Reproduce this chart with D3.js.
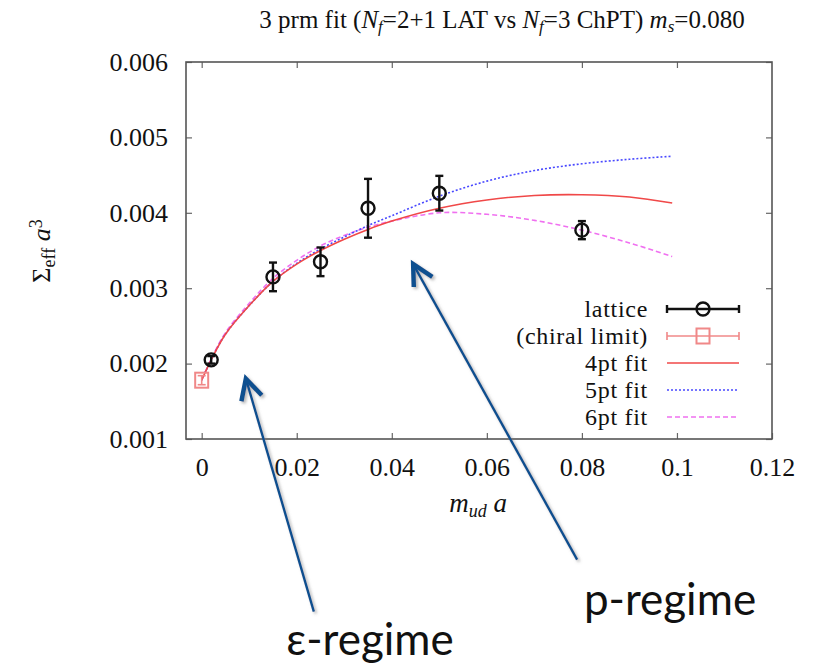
<!DOCTYPE html>
<html>
<head>
<meta charset="utf-8">
<script src="https://cdn.jsdelivr.net/npm/d3@7"></script>
<style>
  body { margin: 0; background: #fff; }
  svg text { font-family: "Liberation Serif", "Tinos", "Times New Roman", "DejaVu Serif", serif; fill: #111; }
  .regime { font-family: Lato, "Noto Sans", sans-serif; }
</style>
</head>
<body>
<div id="chart"></div>
<script>
// tick values
const xTicks = [0, 0.02, 0.04, 0.06, 0.08, 0.1, 0.12];
const yTicks = [0.001, 0.002, 0.003, 0.004, 0.005, 0.006];

// lattice data (m_ud a, Sigma_eff a^3, error)
const latticeX = [0.002, 0.015, 0.025, 0.035, 0.05, 0.08];
const latticeY = [0.00205, 0.00315, 0.00335, 0.00406, 0.00426, 0.00377];
const latticeErr = [0.00005, 0.00019, 0.00019, 0.00039, 0.00023, 0.00012];

// chiral limit
const chiralX = [0];
const chiralY = [0.00178];
const chiralErr = [0.00006];

// fit curves
const fitX = [0, 0.002, 0.005, 0.01, 0.015, 0.02, 0.025, 0.03, 0.035, 0.04, 0.05, 0.06, 0.07, 0.08, 0.09, 0.099];
const fit4 = [0.00178, 0.00205, 0.00239, 0.00277, 0.00309, 0.00332, 0.00350, 0.00365, 0.00378, 0.00389, 0.00406, 0.00417, 0.00423, 0.00424, 0.00421, 0.00413];
const fit5 = [0.00178, 0.00205, 0.00239, 0.00277, 0.00309, 0.00333, 0.00352, 0.00368, 0.00383, 0.00396, 0.00422, 0.00442, 0.00456, 0.00465, 0.00471, 0.00475];
const fit6 = [0.00178, 0.00206, 0.00241, 0.00280, 0.00313, 0.00337, 0.00356, 0.00370, 0.00381, 0.00389, 0.00400, 0.00398, 0.00390, 0.00377, 0.00360, 0.00342];

const legendLabels = ["lattice", "(chiral limit)", "4pt fit", "5pt fit", "6pt fit"];

// annotation arrows: tip and tail in data units
const arrowNames = ["ε-regime", "p-regime"];
const arrowTip = [[0.0093, 0.00180], [0.0445, 0.00332]];
const arrowTail = [[0.0236, -0.00129], [0.0790, -0.00060]];

const W = 814, H = 665;
const plotL = 186, plotR = 772, plotT = 62, plotB = 439;
const serif = '"Liberation Serif", "Tinos", "Times New Roman", "DejaVu Serif", serif';

const svg = d3.select("#chart").append("svg")
  .attr("width", W).attr("height", H);

const defs = svg.append("defs");
const f = defs.append("filter").attr("id", "shadow")
  .attr("x", "-20%").attr("y", "-20%").attr("width", "140%").attr("height", "140%");
f.append("feDropShadow").attr("dx", 2).attr("dy", 2).attr("stdDeviation", 1.5)
  .attr("flood-color", "#777").attr("flood-opacity", 0.55);

const x = d3.scaleLinear().domain([-0.0033, 0.12]).range([plotL, plotR]);
const y = d3.scaleLinear().domain([0.001, 0.006]).range([plotB, plotT]);

// title
const title = svg.append("text")
  .attr("x", 502).attr("y", 28)
  .attr("text-anchor", "middle")
  .style("font-family", serif)
  .style("font-size", "25px");
title.append("tspan").text("3 prm fit (");
title.append("tspan").style("font-style", "italic").text("N");
title.append("tspan").style("font-style", "italic").style("font-size", "17px").attr("baseline-shift", "-25%").text("f");
title.append("tspan").text("=2+1 LAT vs ");
title.append("tspan").style("font-style", "italic").text("N");
title.append("tspan").style("font-style", "italic").style("font-size", "17px").attr("baseline-shift", "-25%").text("f");
title.append("tspan").text("=3 ChPT) ");
title.append("tspan").style("font-style", "italic").text("m");
title.append("tspan").style("font-style", "italic").style("font-size", "17px").attr("baseline-shift", "-25%").text("s");
title.append("tspan").text("=0.080");

// axes
const fmt = d => d === 0 ? "0" : String(+d.toFixed(3));
svg.append("g")
  .attr("transform", `translate(0,${plotB})`)
  .call(d3.axisBottom(x).tickValues(xTicks).tickSizeInner(-6).tickSizeOuter(0).tickPadding(19).tickFormat(fmt))
  .call(g => g.select(".domain").remove());
svg.append("g")
  .attr("transform", `translate(0,${plotT})`)
  .call(d3.axisTop(x).tickValues(xTicks.slice(0, -1)).tickSizeInner(-6).tickSizeOuter(0).tickFormat(""))
  .call(g => g.select(".domain").remove());
svg.append("g")
  .attr("transform", `translate(${plotL},0)`)
  .call(d3.axisLeft(y).tickValues(yTicks).tickSizeInner(-6).tickSizeOuter(0).tickPadding(18).tickFormat(d3.format(".3f")))
  .call(g => g.select(".domain").remove());
svg.append("g")
  .attr("transform", `translate(${plotR},0)`)
  .call(d3.axisRight(y).tickValues(yTicks).tickSizeInner(-6).tickSizeOuter(0).tickFormat(""))
  .call(g => g.select(".domain").remove());

svg.selectAll("g[font-family]").attr("font-family", null);
svg.selectAll(".tick line").attr("stroke", "#666").attr("stroke-width", 1.2);
svg.selectAll(".tick text")
  .style("font-family", serif)
  .style("font-size", "26px")
  .attr("fill", "#111");

svg.append("rect")
  .attr("x", plotL).attr("y", plotT)
  .attr("width", plotR - plotL).attr("height", plotB - plotT)
  .attr("fill", "none").attr("stroke", "#555").attr("stroke-width", 1.6);

// axis labels
const xl = svg.append("text")
  .attr("x", 478).attr("y", 512)
  .attr("text-anchor", "middle")
  .style("font-family", serif)
  .style("font-size", "27px").style("font-style", "italic");
xl.append("tspan").text("m");
xl.append("tspan").style("font-size", "18px").attr("baseline-shift", "-25%").text("ud");
xl.append("tspan").text(" a");

const yl = svg.append("text")
  .attr("transform", "translate(50,251) rotate(-90)")
  .attr("text-anchor", "middle")
  .style("font-family", serif)
  .style("font-size", "26px");
yl.append("tspan").text("Σ");
yl.append("tspan").style("font-size", "18px").attr("baseline-shift", "-25%").text("eff");
yl.append("tspan").style("font-style", "italic").text(" a");
yl.append("tspan").style("font-size", "18px").attr("baseline-shift", "45%").text("3");

// fit curves
const plot = svg.append("g");
const line = d3.line()
  .x(d => x(d[0])).y(d => y(d[1]))
  .curve(d3.curveCatmullRom);

const fits = [
  { vals: fit6, color: "#f070f0", dash: "5,3" },
  { vals: fit5, color: "#4848ff", dash: "2,2" },
  { vals: fit4, color: "#f04848", dash: null }
];
fits.forEach(s => {
  plot.append("path")
    .datum(fitX.map((v, i) => [v, s.vals[i]]))
    .attr("d", line)
    .attr("fill", "none")
    .attr("stroke", s.color)
    .attr("stroke-width", 1.6)
    .attr("stroke-dasharray", s.dash);
});

// error bars
function errBars(g, xs, ys, es, color, w) {
  const cap = 4;
  xs.forEach((v, i) => {
    const cx = x(v), y1 = y(ys[i] + es[i]), y2 = y(ys[i] - es[i]);
    g.append("line").attr("x1", cx).attr("x2", cx).attr("y1", y1).attr("y2", y2);
    g.append("line").attr("x1", cx - cap).attr("x2", cx + cap).attr("y1", y1).attr("y2", y1);
    g.append("line").attr("x1", cx - cap).attr("x2", cx + cap).attr("y1", y2).attr("y2", y2);
  });
  g.attr("stroke", color).attr("stroke-width", w);
}

const chiralG = plot.append("g");
errBars(chiralG.append("g"), chiralX, chiralY, chiralErr, "#f08888", 1.6);
chiralG.selectAll("rect.pt")
  .data(chiralX)
  .join("rect")
  .attr("class", "pt")
  .attr("x", d => x(d) - 6.5)
  .attr("y", (d, i) => y(chiralY[i]) - 7.5)
  .attr("width", 13).attr("height", 15)
  .attr("fill", "none").attr("stroke", "#f08888").attr("stroke-width", 2);

const latG = plot.append("g");
errBars(latG.append("g"), latticeX, latticeY, latticeErr, "#111", 2.4);
latG.selectAll("circle")
  .data(latticeX)
  .join("circle")
  .attr("cx", d => x(d))
  .attr("cy", (d, i) => y(latticeY[i]))
  .attr("r", 6.5)
  .attr("fill", "none").attr("stroke", "#111").attr("stroke-width", 2.4);

// legend
const legX = 648, sx1 = 667, sx2 = 739, rowY0 = 309, rowH = 27;
const leg = svg.append("g");
legendLabels.forEach((lab, i) => {
  const ly = rowY0 + i * rowH;
  leg.append("text")
    .attr("x", legX).attr("y", ly).attr("dy", "0.32em")
    .attr("text-anchor", "end")
    .style("font-family", serif)
    .style("font-size", "24px")
    .style("letter-spacing", "0.7px")
    .text(lab);
  if (i < 2) {
    const col = i === 0 ? "#111" : "#f08888";
    const sw = i === 0 ? 2.4 : 1.6;
    const g = leg.append("g").attr("stroke", col).attr("stroke-width", sw).attr("fill", "none");
    g.append("line").attr("x1", sx1).attr("x2", sx2).attr("y1", ly).attr("y2", ly);
    g.append("line").attr("x1", sx1).attr("x2", sx1).attr("y1", ly - 4).attr("y2", ly + 4);
    g.append("line").attr("x1", sx2).attr("x2", sx2).attr("y1", ly - 4).attr("y2", ly + 4);
    const mx = (sx1 + sx2) / 2;
    if (i === 0) g.append("circle").attr("cx", mx).attr("cy", ly).attr("r", 6.5);
    else g.append("rect").attr("x", mx - 6.5).attr("y", ly - 7.5).attr("width", 13).attr("height", 15).attr("stroke-width", 2);
  } else {
    const s = fits[4 - i];
    leg.append("line")
      .attr("x1", sx1).attr("x2", sx2).attr("y1", ly).attr("y2", ly)
      .attr("stroke", s.color).attr("stroke-width", 1.6)
      .attr("stroke-dasharray", s.dash);
  }
});

// annotation arrows
const ann = svg.append("g").attr("filter", "url(#shadow)");
arrowTip.forEach((tp, i) => {
  const tx = x(tp[0]), ty = y(tp[1]);
  const ex = x(arrowTail[i][0]), ey = y(arrowTail[i][1]);
  const ang = Math.atan2(ey - ty, ex - tx);
  const len = 23, spread = 0.48;
  ann.append("line")
    .attr("x1", tx).attr("y1", ty).attr("x2", ex).attr("y2", ey)
    .attr("stroke", "#0f4f8f").attr("stroke-width", 2.4);
  ann.append("path")
    .attr("d", `M${tx + len * Math.cos(ang - spread)},${ty + len * Math.sin(ang - spread)}L${tx},${ty}L${tx + len * Math.cos(ang + spread)},${ty + len * Math.sin(ang + spread)}`)
    .attr("fill", "none").attr("stroke", "#0f4f8f").attr("stroke-width", 4.5)
    .attr("stroke-linejoin", "miter");
});

// regime labels
const regimePos = [[370, 655], [670, 615]];
arrowNames.forEach((t, i) => {
  svg.append("text")
    .attr("class", "regime")
    .attr("x", regimePos[i][0]).attr("y", regimePos[i][1])
    .attr("text-anchor", "middle")
    .style("font-size", "44px")
    .text(t);
});
</script>
</body>
</html>
